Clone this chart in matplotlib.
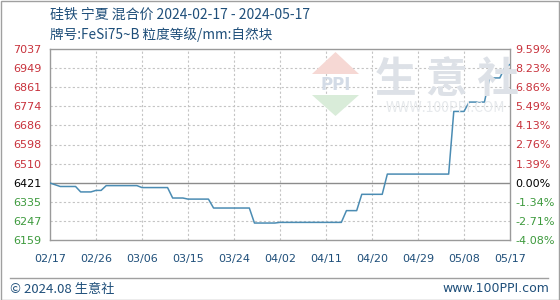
import matplotlib
matplotlib.use("Agg")
import matplotlib.pyplot as plt
import matplotlib.dates as mdates
from matplotlib.patches import Rectangle, Polygon
import numpy as np
import datetime as dt

plt.rcParams['font.family'] = ['Noto Sans CJK SC', 'DejaVu Sans']

# ---- data ----
dates = ["2024-02-17", "2024-02-19", "2024-02-22", "2024-02-23", "2024-02-25",
         "2024-02-26", "2024-02-27", "2024-02-28", "2024-03-05", "2024-03-06",
         "2024-03-11", "2024-03-12", "2024-03-14", "2024-03-15", "2024-03-19",
         "2024-03-20", "2024-03-27", "2024-03-28", "2024-04-01", "2024-04-02",
         "2024-04-14", "2024-04-15", "2024-04-17", "2024-04-18", "2024-04-22",
         "2024-04-23", "2024-05-05", "2024-05-06", "2024-05-08", "2024-05-09",
         "2024-05-12", "2024-05-13", "2024-05-15", "2024-05-16", "2024-05-17"]
prices = [6421, 6405, 6405, 6380, 6380,
          6387, 6387, 6409, 6409, 6400,
          6400, 6352, 6352, 6347, 6347,
          6306, 6306, 6237, 6237, 6240,
          6240, 6294, 6294, 6369, 6369,
          6462, 6462, 6750, 6750, 6793,
          6793, 6904, 6904, 6952, 6966]

y_ticks = [6159, 6247, 6335, 6421, 6510, 6598, 6686, 6774, 6861, 6949, 7037]
pct_labels = ["-4.08%", "-2.71%", "-1.34%", "0.00%", "1.39%", "2.76%",
              "4.13%", "5.49%", "6.86%", "8.23%", "9.59%"]
x_tick_labels = ["02/17", "02/26", "03/06", "03/15", "03/24", "04/02",
                 "04/11", "04/20", "04/29", "05/08", "05/17"]
base_price = 6421
title1 = "硅铁 宁夏 混合价 2024-02-17 - 2024-05-17"
title2 = "牌号:FeSi75~B 粒度等级/mm:自然块"

# ---- figure ----
W, H = 560, 300
fig = plt.figure(figsize=(W / 100, H / 100), dpi=100)
fig.patch.set_facecolor("white")

# outer border
fig.patches.append(Rectangle((0.5 / W, 0.5 / H), 1 - 1.5 / W, 1 - 1.5 / H,
                             transform=fig.transFigure, fill=False,
                             edgecolor="#a0a0a0", lw=1.0))

ax = fig.add_axes([50 / W, 1 - 240 / H, 460 / W, 191 / H])
xd = [dt.datetime.strptime(d, "%Y-%m-%d") for d in dates]

x0 = dt.datetime(2024, 2, 17)
x1 = dt.datetime(2024, 5, 17)
ax.set_xlim(x0, x1)
ax.set_ylim(y_ticks[0], y_ticks[-1])

# watermark
wm_color = "#dde1e7"
fig.text(447 / W, 1 - 80 / H, "生 意 社", fontsize=30, color=wm_color,
         ha="center", va="center", fontweight="bold", zorder=0)
fig.text(445 / W, 1 - 108 / H, "WWW.100PPI.COM", fontsize=10, color="#e6e9ec",
         ha="center", va="center", zorder=0)
tri_top = Polygon([(312 / W, 1 - 74 / H), (359 / W, 1 - 74 / H), (335.5 / W, 1 - 52 / H)],
                  closed=True, transform=fig.transFigure, facecolor="#f6d8d4",
                  edgecolor="none", zorder=0)
tri_bot = Polygon([(312 / W, 1 - 95 / H), (359 / W, 1 - 95 / H), (335.5 / W, 1 - 116 / H)],
                  closed=True, transform=fig.transFigure, facecolor="#d9ecd9",
                  edgecolor="none", zorder=0)
fig.patches.extend([tri_top, tri_bot])
fig.text(335.5 / W, 1 - 85 / H, "PPI", fontsize=12, color="#d3dbe6", ha="center",
         va="center", fontweight="bold", family="DejaVu Sans", zorder=0)

ax.patch.set_alpha(0)

# grid
tick_dates = [dt.datetime.strptime("2024/" + t, "%Y/%m/%d") for t in x_tick_labels]
for td in tick_dates[1:-1]:
    ax.axvline(td, color="#c4c4c4", lw=0.8, ls=(0, (2, 2)), zorder=1)
for yv in y_ticks[1:-1]:
    if yv == base_price:
        ax.axhline(yv, color="#8c8c8c", lw=1.0, zorder=1)
    else:
        ax.axhline(yv, color="#c4c4c4", lw=0.8, ls=(0, (2, 2)), zorder=1)

ax.plot(xd, prices, color="#4b8cb3", lw=1.1, zorder=3)

for s in ax.spines.values():
    s.set_color("#9a9a9a")
    s.set_linewidth(1.0)

ax.set_xticks(tick_dates)
ax.set_xticklabels(x_tick_labels, color="#1f4f7a", fontsize=8, family="DejaVu Sans")
ax.tick_params(axis="x", length=0, pad=10)

ax.set_yticks(y_ticks)
ax.set_yticklabels([str(v) for v in y_ticks], fontsize=8, family="DejaVu Sans")
ax.tick_params(axis="y", length=0, pad=6)


def col(v):
    if v > base_price:
        return "#c8323c"
    if v < base_price:
        return "#3d9a3d"
    return "#000000"


for lbl, v in zip(ax.get_yticklabels(), y_ticks):
    lbl.set_color(col(v))

ax2 = ax.twinx()
ax2.set_ylim(ax.get_ylim())
ax2.set_yticks(y_ticks)
ax2.set_yticklabels(pct_labels, fontsize=8, family="DejaVu Sans")
ax2.tick_params(axis="y", length=0, pad=4)
for lbl, v in zip(ax2.get_yticklabels(), y_ticks):
    lbl.set_color(col(v))
for s in ax2.spines.values():
    s.set_visible(False)

# titles
fig.text(50 / W, 1 - 15 / H, title1, fontsize=10, color="#1f4f7a", ha="left", va="center")
fig.text(50 / W, 1 - 35 / H, title2, fontsize=9.8, color="#1f4f7a", ha="left", va="center")

# footer
fig.add_artist(plt.Line2D([10 / W, 548 / W], [1 - 278 / H, 1 - 278 / H],
                          transform=fig.transFigure, color="#a0a0a0", lw=1.0))
fig.text(10 / W, 1 - 289 / H, "© 2024.08 生意社", fontsize=9.5, color="#1f4f7a",
         ha="left", va="center")
fig.text(549 / W, 1 - 289 / H, "www.100PPI.com", fontsize=9, color="#1f4f7a",
         ha="right", va="center", family="DejaVu Sans")

fig.savefig("out.png", dpi=100)
